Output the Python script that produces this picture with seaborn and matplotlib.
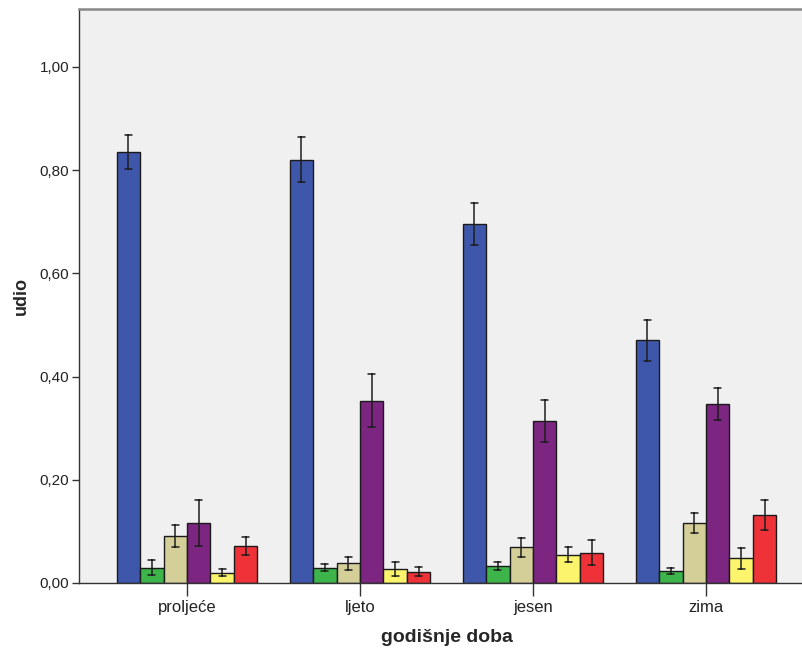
import matplotlib
matplotlib.use("Agg")
import matplotlib.pyplot as plt
import seaborn as sns
import pandas as pd

seasons = ["proljeće", "ljeto", "jesen", "zima"]
series = ["1", "2", "3", "4", "5", "6"]
colors = ["#3F57AA", "#3DB54A", "#D4CE98", "#7C2682", "#FBF46C", "#EE3237"]

s1_mean = [0.835, 0.820, 0.696, 0.470]
s1_err = [0.032, 0.044, 0.041, 0.040]
s2_mean = [0.030, 0.030, 0.033, 0.023]
s2_err = [0.015, 0.007, 0.008, 0.006]
s3_mean = [0.091, 0.038, 0.069, 0.116]
s3_err = [0.021, 0.013, 0.018, 0.019]
s4_mean = [0.116, 0.353, 0.314, 0.346]
s4_err = [0.044, 0.051, 0.041, 0.031]
s5_mean = [0.020, 0.027, 0.055, 0.048]
s5_err = [0.007, 0.013, 0.015, 0.020]
s6_mean = [0.072, 0.022, 0.059, 0.131]
s6_err = [0.017, 0.009, 0.025, 0.029]

means = [s1_mean, s2_mean, s3_mean, s4_mean, s5_mean, s6_mean]
errs = [s1_err, s2_err, s3_err, s4_err, s5_err, s6_err]

rows = []
for name, m, e in zip(series, means, errs):
    for season, mv, ev in zip(seasons, m, e):
        rows.append({"doba": season, "skupina": name, "udio": mv - ev})
        rows.append({"doba": season, "skupina": name, "udio": mv + ev})
df = pd.DataFrame(rows)

sns.set_style("white")
plt.rcParams["font.family"] = ["Liberation Sans", "DejaVu Sans"]

fig = plt.figure(figsize=(8.02, 6.51), dpi=100)
ax = fig.add_axes([79 / 802, 68 / 651, (814 - 79) / 802, (583 - 9) / 651])
ax.set_facecolor("#F0F0F0")

sns.barplot(
    data=df, x="doba", y="udio", hue="skupina",
    order=seasons, hue_order=series, palette=colors, saturation=1,
    estimator="mean", errorbar=lambda v: (min(v), max(v)),
    capsize=0.25, err_kws={"color": "#1e1e1e", "linewidth": 1.1},
    width=0.813, edgecolor="#1a1a1a", linewidth=1.0, legend=False, ax=ax,
)

ax.set_xlim(-0.624, 3.624)
ax.set_ylim(0, 1.112)
ax.set_yticks([0, 0.2, 0.4, 0.6, 0.8, 1.0])
ax.set_yticklabels(["0,00", "0,20", "0,40", "0,60", "0,80", "1,00"])

for sp in ["left", "bottom"]:
    ax.spines[sp].set_color("#333333")
    ax.spines[sp].set_linewidth(1.0)
ax.spines["top"].set_color("#888888")
ax.spines["top"].set_linewidth(1.8)
ax.spines["right"].set_visible(False)

ax.tick_params(axis="y", direction="out", length=5, width=1, color="#333333",
               labelsize=11, labelcolor="#222222", left=True, pad=2)
ax.tick_params(axis="x", direction="out", length=9, width=1, color="#333333",
               labelsize=12, labelcolor="#222222", bottom=True, pad=3)

ax.set_xlabel("godišnje doba", fontsize=14, fontweight="bold", labelpad=10)
ax.set_ylabel("udio", fontsize=13, fontweight="bold", labelpad=7)

fig.savefig("out.png", dpi=100, facecolor="white")
